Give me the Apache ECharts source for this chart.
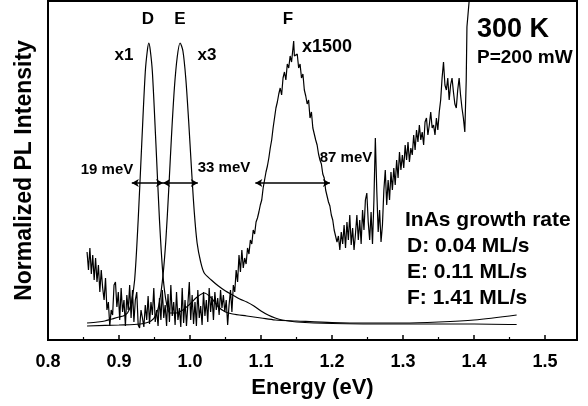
<!DOCTYPE html>
<html><head><meta charset="utf-8">
<script src="https://cdn.jsdelivr.net/npm/echarts@6/dist/echarts.min.js"></script>
<style>html,body{margin:0;padding:0;background:#fff}#c{width:588px;height:406px}</style>
</head><body><div id="c"></div>
<script>
// ---- data (energy in eV, intensity in arbitrary normalized units) ----
const dEnergy = [0.855,0.87,0.88,0.89,0.90,0.906,0.912,0.917,0.922,0.927,0.932,0.937,0.940,0.942,0.944,0.947,0.952,0.957,0.962,0.967,0.972,0.98,0.99,1.0,1.01,1.02,1.03,1.04,1.05,1.06,1.08,1.10,1.12,1.15,1.2,1.25,1.3,1.35,1.4,1.46];
const dIntensity = [17,18,19,21,23,24,27,36,60,120,196,268,290,297,290,268,196,120,64,36,27,27,30,36,43,47,42,33,28,26,24,22,20,19,17.5,17,17,18,20,25];

const eEnergy = [0.855,0.9,0.93,0.945,0.952,0.957,0.962,0.966,0.970,0.974,0.978,0.982,0.986,0.990,0.994,0.998,1.002,1.006,1.010,1.015,1.020,1.030,1.040,1.050,1.060,1.070,1.080,1.090,1.100,1.110,1.120,1.130,1.150,1.20,1.30,1.40,1.46];
const eIntensity = [14,15,16,19,25,38,65,100,150,205,252,283,297,289,262,220,172,128,97,78,67,60,54,49,45,41,38,34,29,25,22,20,18,16.5,16,16,15.5];

const fEnergy = [0.855,0.857,0.859,0.861,0.863,0.865,0.867,0.869,0.871,0.873,0.875,0.877,0.879,0.881,0.883,0.885,0.887,0.889,0.891,0.893,0.895,0.897,0.899,0.901,0.903,0.905,0.907,0.909,0.911,0.913,0.915,0.917,0.919,0.921,0.923,0.925,0.927,0.929,0.931,0.933,0.935,0.937,0.939,0.941,0.943,0.945,0.947,0.949,0.951,0.953,0.955,0.957,0.959,0.961,0.963,0.965,0.967,0.969,0.971,0.973,0.975,0.977,0.979,0.981,0.983,0.985,0.987,0.989,0.991,0.993,0.995,0.997,0.999,1.001,1.003,1.005,1.007,1.009,1.011,1.013,1.015,1.017,1.019,1.021,1.023,1.025,1.027,1.029,1.031,1.033,1.035,1.037,1.039,1.041,1.043,1.045,1.047,1.049,1.051,1.053,1.055,1.057,1.059,1.061,1.063,1.065,1.067,1.069,1.071,1.073,1.075,1.077,1.079,1.081,1.083,1.085,1.087,1.089,1.091,1.093,1.095,1.097,1.099,1.101,1.103,1.105,1.107,1.109,1.111,1.113,1.115,1.117,1.119,1.121,1.123,1.125,1.127,1.129,1.131,1.133,1.135,1.137,1.139,1.141,1.143,1.145,1.146,1.147,1.149,1.151,1.153,1.155,1.157,1.159,1.161,1.163,1.165,1.167,1.169,1.171,1.173,1.175,1.177,1.179,1.181,1.183,1.185,1.187,1.189,1.191,1.193,1.195,1.197,1.199,1.201,1.203,1.205,1.207,1.209,1.211,1.213,1.215,1.217,1.219,1.221,1.223,1.225,1.227,1.229,1.231,1.233,1.235,1.237,1.239,1.241,1.243,1.245,1.247,1.249,1.251,1.253,1.255,1.257,1.259,1.261,1.263,1.265,1.267,1.269,1.271,1.273,1.275,1.277,1.279,1.281,1.283,1.285,1.287,1.289,1.291,1.293,1.295,1.297,1.299,1.301,1.303,1.305,1.307,1.309,1.311,1.313,1.315,1.317,1.319,1.321,1.323,1.325,1.327,1.329,1.331,1.333,1.335,1.337,1.339,1.341,1.343,1.345,1.347,1.349,1.351,1.353,1.355,1.357,1.359,1.361,1.363,1.365,1.367,1.369,1.371,1.373,1.375,1.377,1.379,1.381,1.383,1.385,1.387,1.389,1.390,1.393,1.397,1.400];
const fIntensity = [88,70,92,66,85,60,82,58,75,48,70,52,40,62,30,38,14,30,25,55,58,33,48,20,52,28,40,14,45,30,55,22,50,18,40,48,15,12,30,22,13,35,20,44,16,38,25,52,18,30,14,42,20,50,22,35,14,46,18,55,24,38,15,48,20,32,13,52,17,40,14,36,58,20,45,16,38,14,50,22,34,15,48,24,40,18,52,28,44,20,48,30,42,25,50,32,45,28,40,15,35,50,28,55,48,70,58,85,68,90,72,82,76,92,86,100,96,110,106,118,122,128,135,140,152,160,168,174,182,192,200,212,222,232,238,246,252,245,262,268,260,276,272,284,278,292,299,284,282,286,272,276,262,266,250,244,236,240,222,228,212,210,200,195,186,180,176,166,162,150,148,138,134,125,120,110,112,98,104,90,108,96,115,92,118,100,125,95,112,90,106,125,100,120,96,130,110,140,147,118,100,128,96,140,202,150,108,130,98,115,150,170,135,160,140,168,150,172,155,180,162,188,170,185,172,195,180,198,178,192,185,205,190,210,198,215,200,208,195,218,222,205,215,228,212,215,205,222,210,228,240,262,278,255,250,262,240,255,262,248,236,232,250,262,245,232,222,208,260,313,338,360,380];

const xTickLabels = ['0.8','0.9','1.0','1.1','1.2','1.3','1.4','1.5'];
const peakLabels = ['D','E','F'];
const scaleLabels = ['x1','x3','x1500'];
const fwhmLabels = ['19 meV','33 meV','87 meV'];
const fwhmStart = [0.918, 0.962, 1.092];
const fwhmEnd = [0.962, 1.011, 1.197];
const fwhmLevel = 157;
const infoLines = ['InAs growth rate','D: 0.04 ML/s','E: 0.11 ML/s','F: 1.41 ML/s'];

const zip = (a, b) => a.map((v, i) => [v, b[i]]);
const FONT = '"Liberation Sans", Arial, sans-serif';
const lineStyle = { color: '#000', width: 1.2 };

const chart = echarts.init(document.getElementById('c'), null, { renderer: 'canvas' });

function txt(text, x, y, size, align) {
  return { type: 'text', x: x, y: y, silent: true,
    style: { text: text, x: 0, y: 0, fill: '#000', font: 'bold ' + size + 'px ' + FONT,
      textAlign: align || 'center', textVerticalAlign: 'middle' } };
}

const graphics = [
  txt(peakLabels[0], 148, 19, 17), txt(peakLabels[1], 180, 19, 17), txt(peakLabels[2], 288, 19, 17),
  txt(scaleLabels[0], 124, 55, 17), txt(scaleLabels[1], 207, 55, 17), txt(scaleLabels[2], 302, 47, 18, 'left'),
  txt(fwhmLabels[0], 107, 170, 15), txt(fwhmLabels[1], 224, 168, 15), txt(fwhmLabels[2], 346, 158, 15),
  txt('300 K', 477, 30, 27, 'left'), txt('P=200 mW', 477, 58, 19, 'left'),
  txt(infoLines[0], 405, 220, 21, 'left'), txt(infoLines[1], 407, 246, 21, 'left'),
  txt(infoLines[2], 407, 272, 21, 'left'), txt(infoLines[3], 407, 298, 21, 'left')
];

chart.setOption({
  animation: false,
  backgroundColor: '#fff',
  grid: { left: 48, right: 11, top: 1, bottom: 66, show: true, borderColor: '#000', borderWidth: 2, backgroundColor: 'transparent' },
  xAxis: {
    type: 'value', min: 0.8, max: 1.545, interval: 0.1,
    axisLine: { show: true, onZero: false, lineStyle: { color: '#000', width: 2 } },
    axisTick: { show: true, inside: true, length: 5, lineStyle: { color: '#000', width: 1.5 } },
    minorTick: { show: true, splitNumber: 2, length: 3, lineStyle: { color: '#000', width: 1.2 } },
    splitLine: { show: false },
    axisLabel: { color: '#000', fontFamily: FONT, fontWeight: 'bold', fontSize: 18, margin: 13,
      showMaxLabel: false,
      rich: { b: { color: '#000', fontFamily: 'Liberation Sans', fontWeight: 'bold', fontSize: 18 } },
      formatter: v => { const i = Math.round((v - 0.8) / 0.1); return Math.abs(v - (0.8 + i * 0.1)) < 1e-6 ? '{b|' + xTickLabels[i] + '}' : ''; } },
    name: 'Energy (eV)', nameLocation: 'middle', nameGap: 37,
    nameTextStyle: { color: '#000', fontFamily: FONT, fontWeight: 'bold', fontSize: 22 }
  },
  yAxis: {
    type: 'value', min: 0, max: 339,
    axisLine: { show: true, lineStyle: { color: '#000', width: 2 } },
    axisTick: { show: false }, axisLabel: { show: false }, splitLine: { show: false },
    name: 'Normalized PL Intensity', nameLocation: 'middle', nameGap: 12,
    nameTextStyle: { color: '#000', fontFamily: FONT, fontWeight: 'bold', fontSize: 23 }
  },
  graphic: graphics,
  series: [
    { type: 'line', name: 'D', data: zip(dEnergy, dIntensity), showSymbol: false, smooth: 0.3, lineStyle: lineStyle, silent: true },
    { type: 'line', name: 'E', data: zip(eEnergy, eIntensity), showSymbol: false, smooth: 0.3, lineStyle: lineStyle, silent: true },
    { type: 'line', name: 'F', data: zip(fEnergy, fIntensity), showSymbol: false, smooth: false, lineStyle: lineStyle, silent: true, clip: true,
      markLine: { silent: true, symbol: ['arrow', 'arrow'], symbolSize: [6, 7], label: { show: false },
        lineStyle: { color: '#000', width: 1.5, type: 'solid' },
        data: fwhmStart.map((s, i) => [{ coord: [s, fwhmLevel] }, { coord: [fwhmEnd[i], fwhmLevel] }]) } }
  ]
});
</script></body></html>
